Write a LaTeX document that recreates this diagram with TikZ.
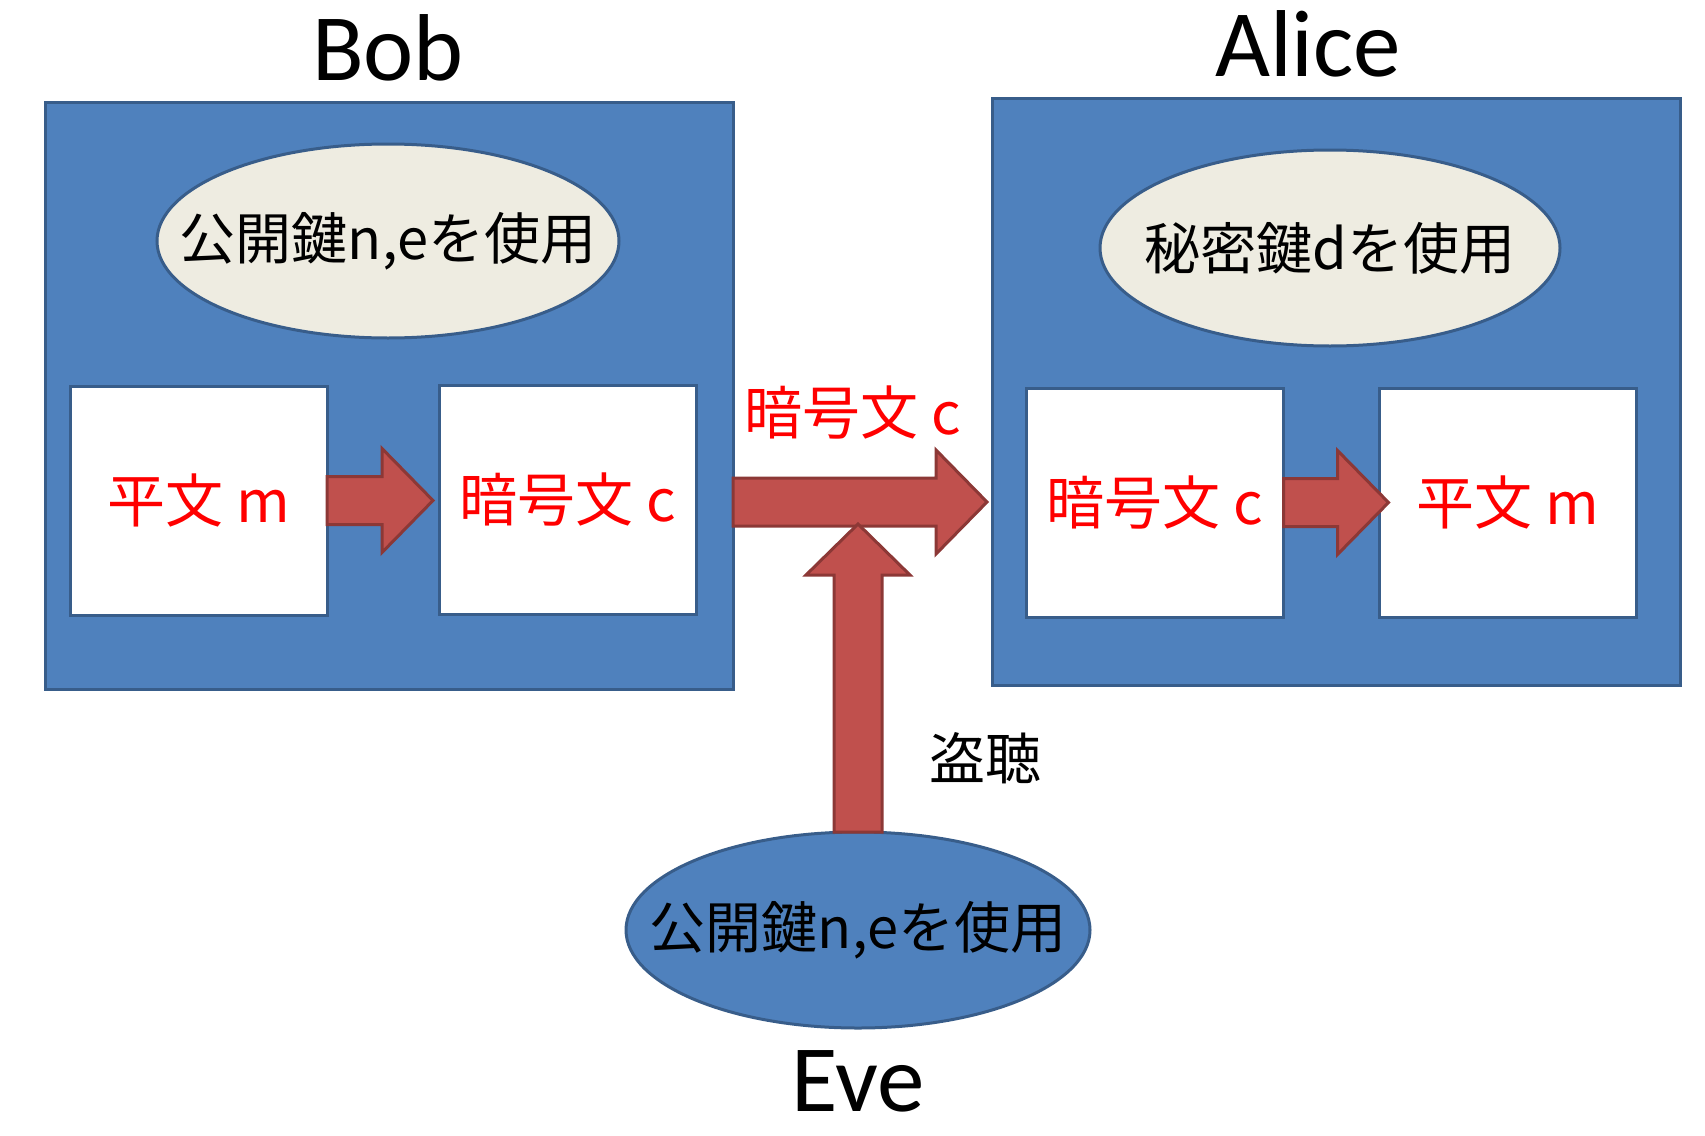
\documentclass[tikz,border=0pt]{standalone}
\usepackage{fontspec}
\setmainfont{Carlito}
\newfontfamily\jp{Noto Sans CJK JP}
\usetikzlibrary{shapes.geometric,calc}

\definecolor{panelblue}{HTML}{4F81BD}
\definecolor{edgeblue}{HTML}{385D8A}
\definecolor{cream}{HTML}{EEECE1}
\definecolor{arrowred}{HTML}{C0504D}
\definecolor{arrowedge}{HTML}{8C3836}
\definecolor{msgred}{HTML}{FF0000}

% Block arrow from #1 to tip #2; #3 names its head-base point
\newcommand\blockarrow[3]{%
  \coordinate (#3-hb) at ($(#2)!51pt!(#1)$);
  \draw[arrowbody]
    ($(#1)!24pt!90:(#2)$) -- ($(#3-hb)!24pt!90:(#2)$) -- ($(#3-hb)!52pt!90:(#2)$)
    -- (#2)
    -- ($(#3-hb)!52pt!-90:(#2)$) -- ($(#3-hb)!24pt!-90:(#2)$) -- ($(#1)!24pt!-90:(#2)$)
    -- cycle;
}

\tikzset{
  panel/.style={draw=edgeblue, fill=panelblue, line width=3pt, rectangle,
    minimum width=688pt, minimum height=587pt, inner sep=0pt, outer sep=0pt},
  msgbox/.style={draw=edgeblue, fill=white, line width=3pt, rectangle,
    minimum width=257pt, minimum height=229pt, inner sep=0pt, outer sep=0pt,
    text=msgred, font=\jp\fontsize{58}{58}\selectfont},
  keyoval/.style={draw=edgeblue, fill=cream, line width=3pt, ellipse,
    inner sep=0pt, outer sep=0pt},
  keytext/.style={inner sep=0pt, font=\jp\fontsize{56}{56}\selectfont},
  msglabel/.style={inner sep=0pt, text=msgred, font=\jp\fontsize{58}{58}\selectfont},
  actor/.style={inner sep=0pt, anchor=base, font=\fontsize{95}{95}\selectfont},
  arrowbody/.style={draw=arrowedge, fill=arrowred, line width=3pt, line join=miter},
}

\begin{document}
\begin{tikzpicture}[x=1pt, y=-1pt]
  \useasboundingbox (0,0) rectangle (1705,1135);

  % names
  \node[actor] (bobname) at (388,80) {Bob};
  \node[actor] (alicename) at (1308,76) {Alice};
  \node[actor] (evename) at (858,1111) {Eve};

  % Bob's side
  \node[panel] (bob) at (389,395.5) {};
  \node[keyoval, minimum width=462pt, minimum height=194pt] (bobkey) at (388,241) {};
  \node[keytext] at (bobkey) {公開鍵n,eを使用};
  \node[msgbox] (p1) at (198.5,500.5) {平文 m};
  \node[msgbox] (c1) at (567.5,499.5) {暗号文 c};

  % Alice's side
  \node[panel] (alice) at (1336,391.5) {};
  \node[keyoval, minimum width=460pt, minimum height=196pt] (alicekey) at (1330,248) {};
  \node[keytext] at (alicekey) {秘密鍵dを使用};
  \node[msgbox] (c2) at (1155,502.5) {暗号文 c};
  \node[msgbox] (p2) at (1508,502.5) {平文 m};

  % Eve
  \node[keyoval, fill=panelblue, minimum width=464pt, minimum height=196pt] (eve) at (858,930) {};
  \node[keytext] at (eve) {公開鍵n,eを使用};

  % arrows inside the panels
  \coordinate (bobtip) at ($(c1.west)+(-6,1)$);
  \blockarrow{p1.east}{bobtip}{ba}
  \coordinate (alicetip) at ($(p2.west)+(9,0)$);
  \blockarrow{c2.east}{alicetip}{aa}

  % the transmitted ciphertext
  \coordinate (send) at (bob.east |- 0,502);
  \coordinate (recv) at ($(alice.west |- 0,502)+(-5,0)$);
  \blockarrow{send}{recv}{ma}
  \node[msglabel] (cipher) at (853,413) {暗号文 c};

  % eavesdropping
  \coordinate (tap) at (858,524);
  \blockarrow{eve.north}{tap}{ea}
  \node[keytext] (listen) at (985,758) {盗聴};
\end{tikzpicture}
\end{document}
